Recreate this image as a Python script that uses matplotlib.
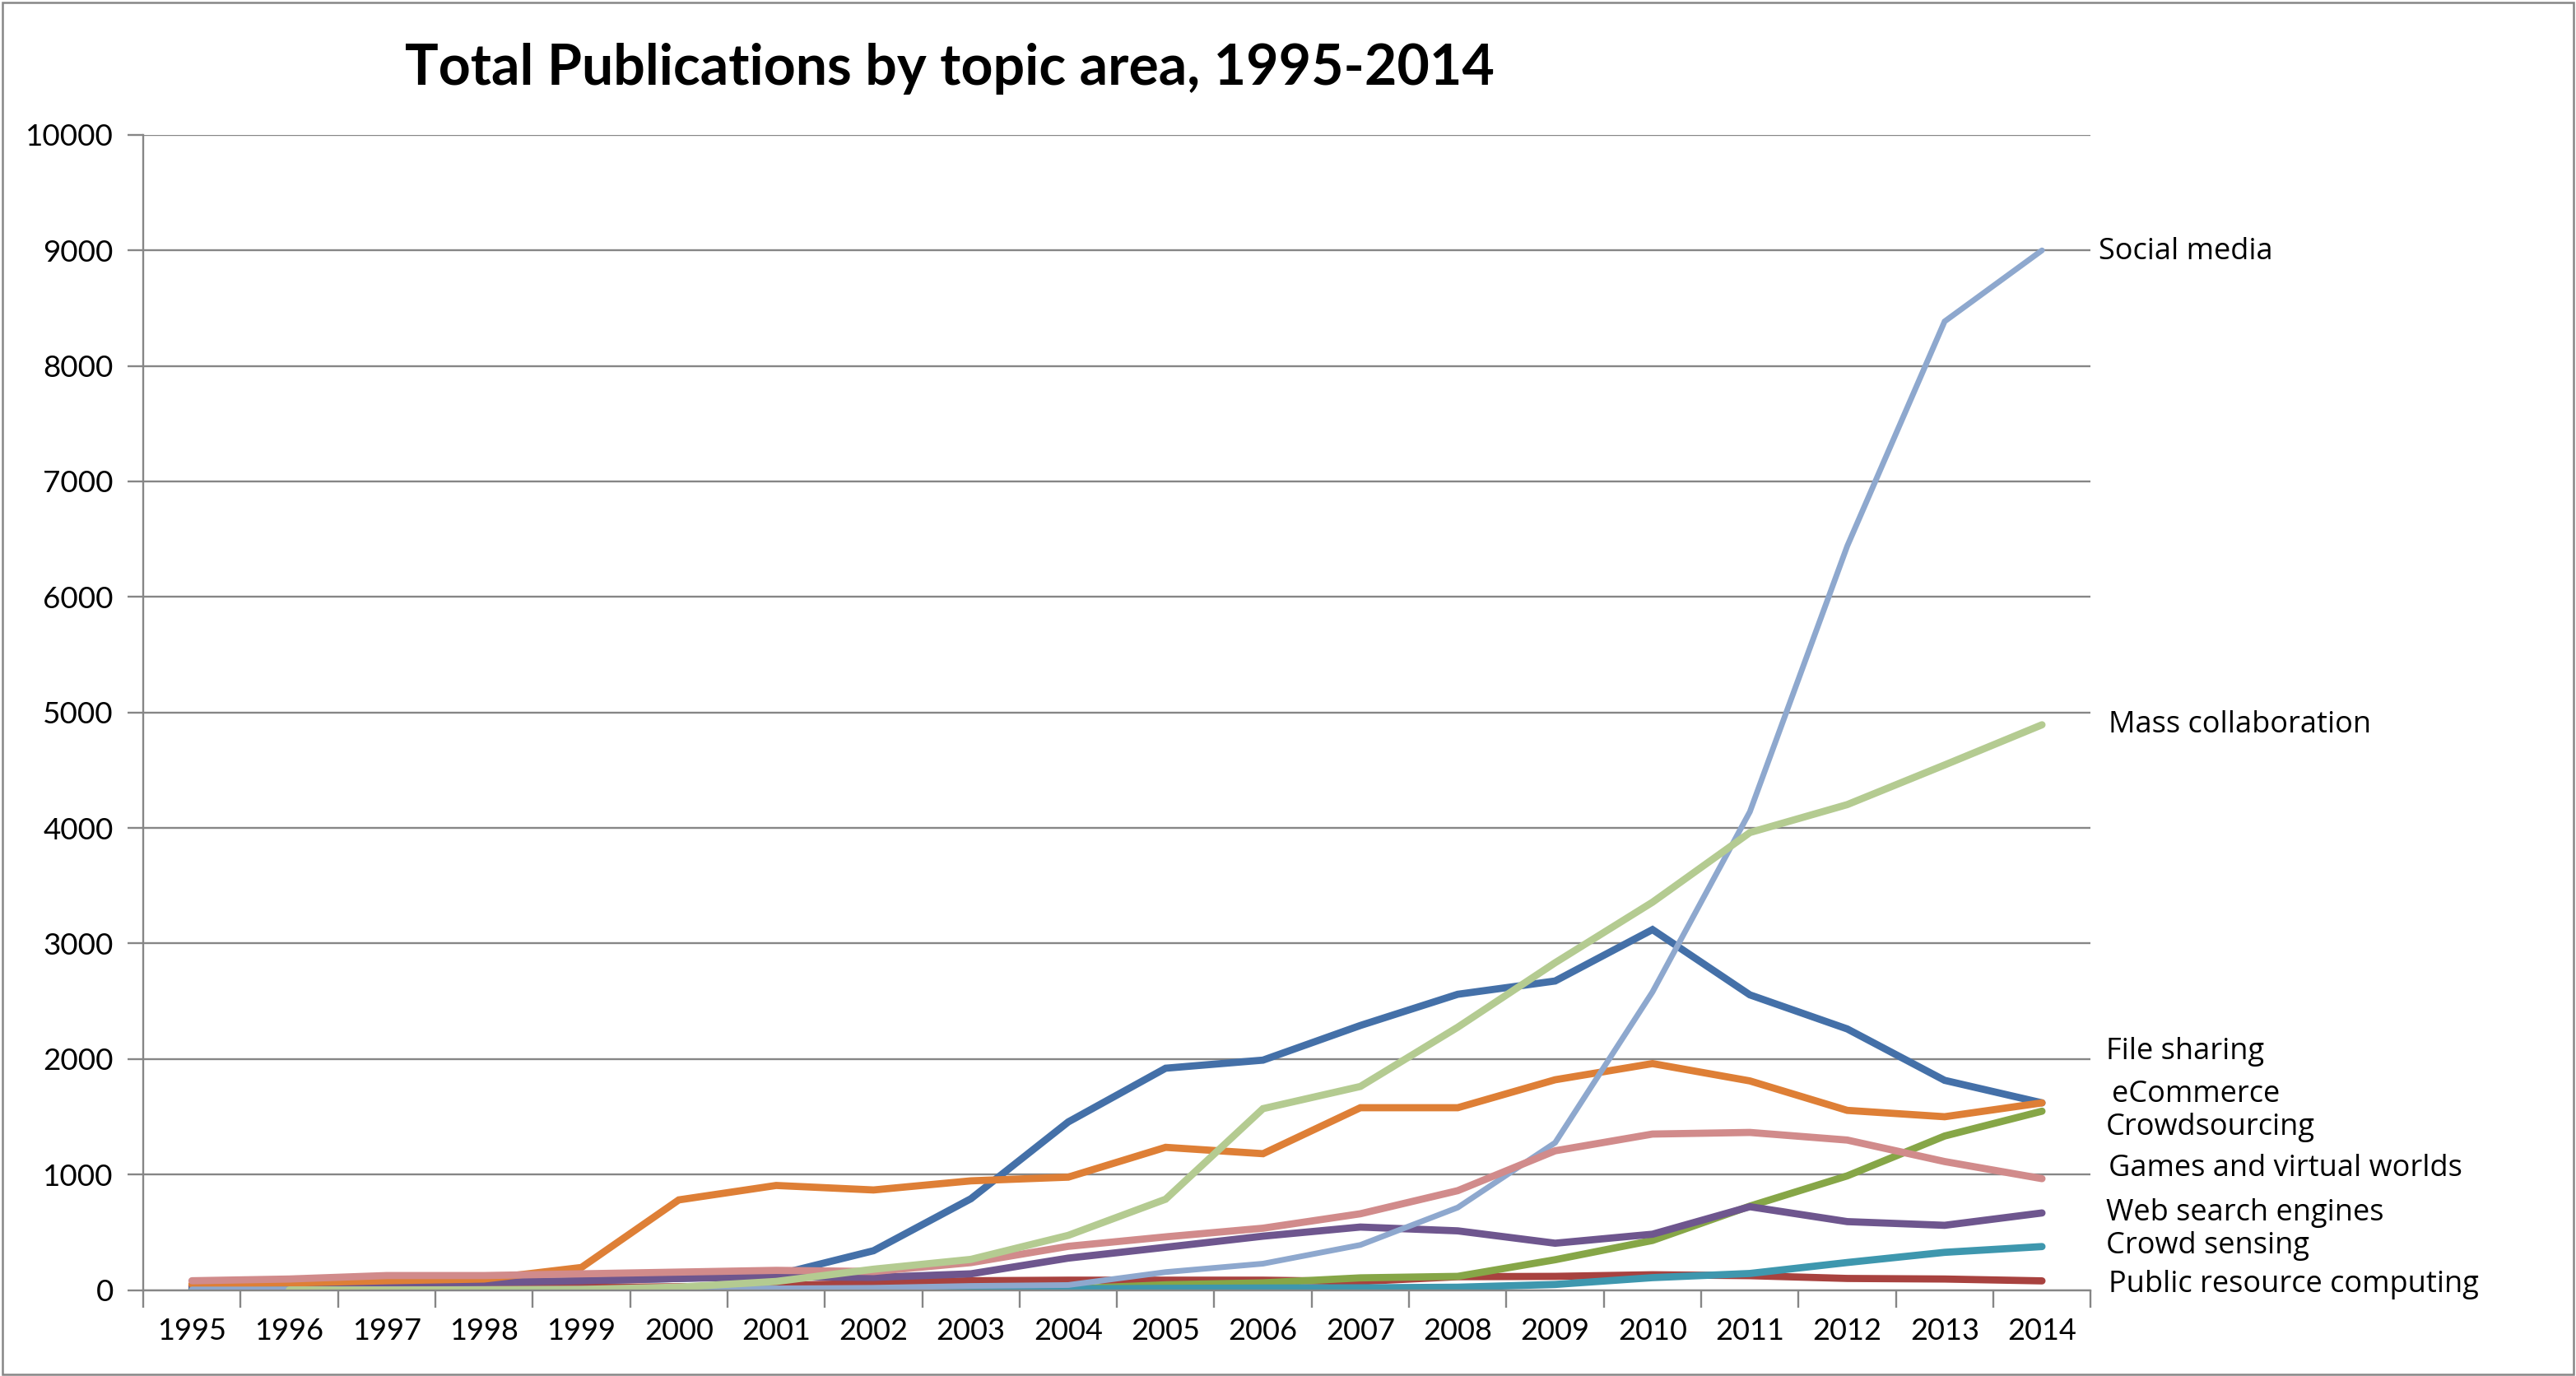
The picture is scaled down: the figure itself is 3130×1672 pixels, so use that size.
import numpy as np
import matplotlib
matplotlib.use("Agg")
import matplotlib.pyplot as plt
from matplotlib.patches import Rectangle

years = [str(y) for y in range(1995, 2015)]

file_sharing = [40, 50, 60, 65, 80, 100, 130, 340, 790, 1455, 1920, 1990, 2290, 2560, 2675, 3120, 2555, 2260, 1815, 1620]
public_resource = [10, 12, 15, 18, 22, 28, 38, 60, 80, 85, 85, 85, 74, 115, 118, 132, 124, 100, 95, 79]
crowdsourcing = [0, 0, 0, 0, 0, 0, 0, 2, 5, 10, 45, 62, 105, 118, 262, 429, 726, 988, 1333, 1548]
web_search = [30, 40, 55, 65, 80, 100, 115, 109, 140, 276, 370, 466, 545, 512, 405, 483, 721, 592, 560, 667]
crowd_sensing = [0, 0, 0, 0, 0, 0, 3, 5, 8, 10, 14, 17, 19, 24, 48, 107, 143, 238, 326, 376]
ecommerce = [50, 60, 80, 95, 195, 780, 905, 866, 945, 977, 1235, 1180, 1578, 1578, 1820, 1960, 1810, 1555, 1500, 1620]
social_media = [5, 5, 5, 8, 10, 12, 14, 19, 35, 43, 155, 228, 390, 714, 1275, 2580, 4140, 6440, 8385, 9000]
games = [80, 95, 125, 125, 140, 155, 170, 160, 237, 378, 460, 535, 660, 860, 1205, 1350, 1364, 1298, 1112, 964]
mass_collab = [np.nan, 0, 0, 2, 5, 25, 74, 180, 265, 473, 786, 1570, 1762, 2275, 2833, 3357, 3960, 4202, 4545, 4893]

series = [
    ("File sharing", file_sharing, "#4470A8", 2063),
    ("Public resource computing", public_resource, "#A8423F", 43),
    ("Crowdsourcing", crowdsourcing, "#86A647", 1408),
    ("Web search engines", web_search, "#6E568E", 669),
    ("Crowd sensing", crowd_sensing, "#3E97AE", 384),
    ("eCommerce", ecommerce, "#DE7F36", 1693),
    ("Social media", social_media, "#8EA8CE", 8990),
    ("Games and virtual worlds", games, "#D18B8B", 1053),
    ("Mass collaboration", mass_collab, "#B4CB91", 4893),
]
label_dx = {"Social media": 0.0, "Mass collaboration": 0.005, "File sharing": 0.004,
            "eCommerce": 0.007, "Crowdsourcing": 0.004, "Games and virtual worlds": 0.005,
            "Web search engines": 0.004, "Crowd sensing": 0.004, "Public resource computing": 0.005}

fig = plt.figure(figsize=(31.3, 16.72), dpi=100)
ax = fig.add_axes([0.0556, 0.0625, 0.756, 0.8395])

x = np.arange(len(years))
grid_c = "#868686"
for name, vals, col, ly in series:
    lw = 5.0 if name == "Social media" else 6.3
    ax.plot(x, vals, color=col, lw=lw, solid_capstyle="round", solid_joinstyle="miter")

ax.set_xlim(-0.5, len(years) - 0.5)
ax.set_ylim(0, 10000)
ax.set_yticks(np.arange(0, 10001, 1000))
ax.set_yticklabels([str(v) for v in range(0, 10001, 1000)], fontsize=26.5, fontfamily="Lato")
ax.yaxis.grid(True, color=grid_c, lw=1.7)
ax.set_axisbelow(True)

ax.set_xticks(x)
ax.set_xticklabels(years, fontsize=26, fontfamily="Lato")
ax.set_xticks(np.arange(-0.5, len(years), 1.0), minor=True)
ax.tick_params(axis="x", which="major", length=0, pad=24)
ax.tick_params(axis="x", which="minor", length=15, width=1.7, color=grid_c, direction="out")
ax.tick_params(axis="y", length=14, width=1.7, color=grid_c, pad=12)

for s in ["top", "right"]:
    ax.spines[s].set_visible(False)
for s in ["left", "bottom"]:
    ax.spines[s].set_color(grid_c)
    ax.spines[s].set_linewidth(1.7)

for name, vals, col, ly in series:
    ax.annotate(name, xy=(1.0 + 0.004 + label_dx[name], ly), xycoords=("axes fraction", "data"),
                ha="left", va="center", fontsize=26, fontfamily="Open Sans",
                annotation_clip=False)

fig.text(0.3687, 0.95, "Total Publications by topic area, 1995-2014", ha="center", va="center",
         fontsize=49, fontweight="bold", fontfamily="Lato")

fig.patches.append(Rectangle((0.0008, 0.001), 0.9984, 0.9975, transform=fig.transFigure,
                             fill=False, edgecolor=grid_c, lw=1.8))

fig.savefig("out.png", dpi=100)
